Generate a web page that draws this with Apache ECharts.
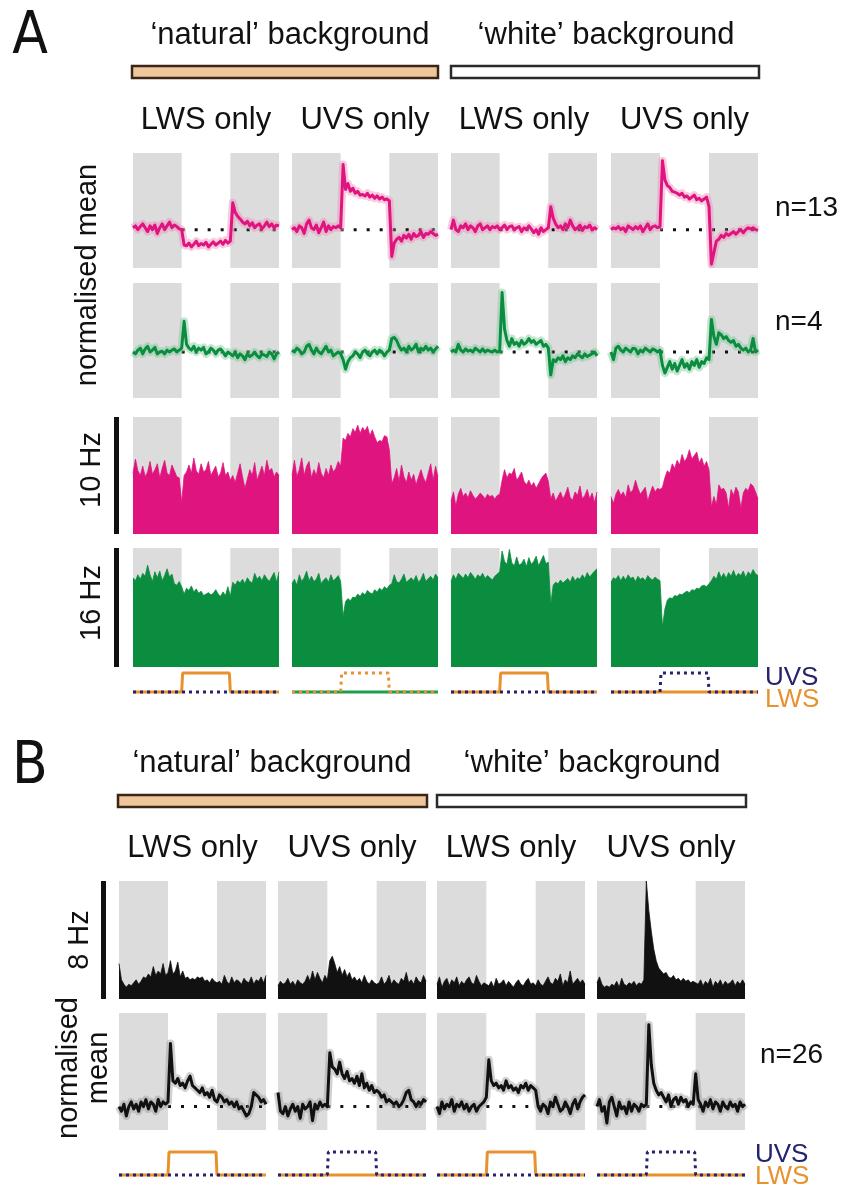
<!DOCTYPE html>
<html>
<head>
<meta charset="utf-8">
<script src="https://cdn.jsdelivr.net/npm/echarts@6/dist/echarts.min.js"></script>
<style>html,body{margin:0;padding:0;background:#fff}#c{width:842px;height:1191px}</style>
</head>
<body>
<div id="c"></div>
<script>
// ---- time base: 61 samples per trace, stimulus on between t=20 and t=40 ----
const tMax = 60;
const grayBlocks = [[0, 20], [40, 60]];
const baselineSpan = [20, 60];

// ---- A: normalised mean (n=13), pink ----
const a13_natLWS = [0.05,0.1,0.0,0.08,0.15,0.05,-0.05,0.1,0.0,0.12,-0.1,0.05,0.15,0.0,0.1,0.2,0.05,0.12,0.08,0.02,0.0,
  -0.4,-0.42,-0.35,-0.45,-0.38,-0.3,-0.42,-0.36,-0.4,-0.33,-0.45,-0.38,-0.32,-0.4,-0.35,-0.3,-0.38,-0.28,-0.35,-0.3,
  0.7,0.45,0.35,0.28,0.2,0.15,0.22,0.1,0.18,0.05,0.12,0.15,0.02,0.1,0.2,0.08,0.15,0.05,0.12,0.1];
const a13_natUVS = [0.0,0.05,-0.05,0.1,0.05,-0.1,0.15,0.25,0.05,0.0,0.12,-0.08,0.05,0.2,-0.05,0.1,0.0,0.08,0.05,0.1,0.05,
  1.7,1.05,1.2,1.0,1.08,0.95,1.0,0.9,0.92,0.88,0.95,0.85,0.9,0.82,0.88,0.8,0.85,0.78,0.8,0.75,
  -0.7,-0.35,-0.25,-0.2,-0.3,-0.15,-0.22,-0.12,-0.25,-0.1,-0.18,-0.15,-0.05,-0.2,-0.1,-0.12,-0.05,-0.1,-0.15,-0.12];
const a13_whtLWS = [0.0,0.25,0.0,-0.05,0.1,0.05,0.15,0.0,0.1,0.05,-0.05,0.1,0.15,0.0,0.05,0.1,0.0,0.08,0.05,0.1,0.0,
  0.05,0.12,0.0,0.08,0.1,0.0,0.05,0.08,-0.05,0.05,0.0,0.1,0.02,-0.08,0.0,-0.12,0.05,-0.05,0.0,0.05,
  0.6,0.3,0.15,0.05,0.1,0.0,0.15,0.05,0.25,0.1,0.0,0.05,0.12,-0.02,0.08,0.05,0.12,0.0,0.05,0.0];
const a13_whtUVS = [0.0,0.05,0.02,0.08,0.0,0.05,-0.05,0.1,0.05,0.0,0.08,0.02,0.1,-0.05,0.05,0.15,0.0,0.08,0.1,0.05,0.08,
  1.8,1.3,1.15,1.1,1.0,0.98,0.95,0.9,0.95,0.85,0.88,0.8,0.85,0.9,0.78,0.82,0.75,0.8,0.85,0.6,
  -0.9,-0.6,-0.3,-0.25,-0.15,-0.2,-0.1,-0.15,-0.1,-0.05,-0.12,-0.05,0.0,-0.08,0.0,0.05,0.02,0.05,0.0,-0.02];

// ---- A: normalised mean (n=4), green ----
const a4_natLWS = [0.0,-0.05,0.05,0.1,-0.05,0.08,0.15,0.0,0.05,0.12,-0.05,0.0,0.02,-0.05,0.05,0.0,0.05,0.08,0.0,0.05,0.1,
  0.8,0.2,0.1,0.05,0.15,0.0,0.1,0.05,0.12,-0.05,0.0,0.1,0.05,-0.05,0.05,0.08,0.0,-0.1,0.0,-0.05,
  -0.1,0.0,-0.15,-0.05,-0.1,-0.2,-0.05,-0.12,-0.08,0.0,-0.1,-0.15,-0.05,-0.08,-0.12,0.0,-0.05,-0.18,-0.05,0.0];
const a4_natUVS = [0.05,0.0,0.1,0.05,-0.05,0.0,0.15,0.2,0.05,-0.05,0.1,0.0,-0.05,0.05,0.15,0.0,0.05,-0.1,-0.05,0.0,-0.05,
  -0.2,-0.45,-0.25,-0.15,-0.1,0.0,-0.05,-0.15,0.0,0.05,-0.05,-0.1,0.0,0.05,-0.05,0.05,0.0,-0.1,0.0,0.05,
  0.35,0.38,0.3,0.15,0.05,0.1,0.0,0.15,0.05,0.1,0.2,0.0,0.1,0.05,0.15,0.05,0.1,0.0,0.08,0.15];
const a4_whtLWS = [0.0,0.05,0.0,0.2,0.05,0.0,0.08,0.02,0.05,0.0,0.1,0.05,0.0,0.08,0.0,0.05,0.02,0.0,0.05,0.0,0.02,
  1.55,0.6,0.3,0.15,0.35,0.2,0.25,0.15,0.3,0.2,0.25,0.35,0.25,0.3,0.2,0.25,0.3,0.15,0.2,0.1,
  -0.6,-0.2,-0.25,-0.15,-0.2,-0.1,-0.25,-0.15,-0.2,-0.1,-0.15,-0.05,-0.1,-0.15,-0.05,-0.12,-0.08,-0.05,0.0,-0.1];
const a4_whtUVS = [0.0,-0.2,0.1,0.15,0.05,0.0,0.1,0.05,0.0,0.1,0.08,-0.05,0.05,0.0,0.1,0.05,0.0,0.08,0.05,0.0,0.05,
  -0.35,-0.55,-0.4,-0.25,-0.45,-0.3,-0.5,-0.35,-0.2,-0.4,-0.3,-0.45,-0.25,-0.35,-0.2,-0.4,-0.25,-0.3,-0.15,-0.2,
  0.85,0.4,0.2,0.5,0.45,0.35,0.4,0.3,0.25,0.3,0.15,0.2,0.1,0.05,0.1,0.0,0.05,0.35,0.0,0.05];

// ---- A: example unit firing rate (Hz), 10 Hz scale ----
const hz10_natLWS = [5.2,6.4,5.4,5.0,5.8,4.9,5.3,6.2,5.1,5.5,6.0,4.8,5.6,6.3,5.2,5.0,5.9,5.4,4.9,4.8,2.7,
  5.0,5.3,5.9,5.2,6.5,5.4,5.1,6.0,5.3,5.5,6.2,5.0,5.4,5.8,4.9,5.2,6.1,5.0,5.3,4.6,
  5.0,4.4,5.2,6.0,4.9,3.9,4.7,5.5,5.0,6.1,4.6,5.2,5.8,5.0,6.3,5.4,5.6,4.9,5.3,5.0];
const hz10_natUVS = [5.0,6.3,4.9,5.5,6.5,5.0,5.8,6.2,4.8,5.5,5.0,6.1,5.2,4.8,5.6,5.0,5.9,5.3,5.6,6.2,5.8,
  8.2,8.0,8.6,8.3,9.0,8.7,9.3,8.6,9.1,8.8,9.2,8.4,8.9,8.3,7.8,8.0,7.9,8.4,8.3,7.2,
  4.3,4.8,5.6,4.5,5.9,4.9,4.4,5.3,4.6,5.1,4.2,4.9,5.5,4.8,4.4,5.2,6.0,4.6,5.8,4.9];
const hz10_whtLWS = [2.8,3.6,2.4,3.4,3.9,3.2,3.5,3.1,3.7,3.3,3.0,3.2,3.5,3.3,3.0,3.4,3.2,3.3,3.0,3.3,3.4,
  4.6,5.5,4.8,5.2,5.1,5.6,4.6,4.9,5.3,4.5,4.2,4.6,4.1,4.4,3.9,4.3,4.7,5.0,5.2,4.5,
  3.0,3.5,2.8,3.2,3.6,3.0,3.4,4.0,3.1,2.9,3.6,3.3,4.1,3.0,3.3,3.8,3.0,3.5,2.7,3.6];
const hz10_whtUVS = [3.2,2.6,3.4,3.8,3.3,3.6,3.1,4.2,3.5,3.8,4.6,3.9,3.4,3.7,4.0,2.8,3.5,4.1,3.6,3.9,3.8,
  4.0,4.8,5.4,5.2,6.0,5.6,6.3,5.9,6.8,6.2,6.5,7.2,6.4,6.7,7.0,6.1,6.5,5.8,6.2,5.5,
  2.3,3.2,2.5,4.2,3.8,3.9,3.5,2.2,3.8,3.3,4.0,3.6,2.2,3.5,3.9,3.7,4.3,4.1,3.6,3.0];

// ---- A: example unit firing rate (Hz), 16 Hz scale ----
const hz16_natLWS = [12.0,11.6,12.4,11.8,12.6,12.2,13.7,12.4,11.5,12.8,12.0,12.9,11.6,12.3,13.2,12.1,12.5,11.2,11.0,11.5,10.8,
  9.8,10.6,10.3,10.9,10.1,10.5,9.9,10.2,9.6,9.8,10.0,9.7,9.9,10.4,9.8,9.5,10.1,9.6,10.8,9.5,
  11.4,11.0,11.6,11.3,11.8,11.2,12.0,11.5,11.3,12.6,11.8,12.2,11.6,12.4,11.9,11.5,12.1,12.7,11.4,12.8];
const hz16_natUVS = [11.2,11.8,11.0,12.4,11.5,12.0,12.9,11.6,12.2,11.5,11.8,12.6,11.2,11.7,12.0,11.4,12.4,11.6,11.9,12.3,11.5,
  6.8,8.8,9.2,8.9,9.4,9.3,9.8,9.5,10.0,9.7,10.3,10.0,9.8,10.4,10.1,10.6,10.3,10.8,10.5,11.0,
  11.2,12.4,11.5,11.3,11.8,12.5,11.4,11.7,12.0,11.6,12.3,11.4,11.8,12.6,11.5,11.9,12.2,11.7,12.5,12.0];
const hz16_whtLWS = [11.5,12.4,11.8,12.6,12.3,11.9,12.5,12.0,12.7,12.3,11.8,12.4,12.1,12.6,11.9,12.3,12.0,11.7,12.2,12.5,12.8,
  15.6,14.2,13.8,15.8,14.0,13.6,14.8,13.7,13.9,14.5,13.5,14.7,13.8,14.2,14.9,13.6,14.3,15.0,13.9,14.1,
  8.4,11.0,11.4,11.2,11.7,11.3,11.6,11.9,11.4,12.2,11.6,12.0,11.8,12.4,11.9,12.7,12.1,12.5,12.9,13.2];
const hz16_whtUVS = [11.4,12.0,11.8,12.3,11.6,12.2,11.7,12.4,11.9,12.1,11.5,12.2,11.8,12.0,11.6,12.3,11.9,11.7,12.1,11.8,11.6,
  5.4,7.8,9.0,9.3,9.2,9.6,9.5,9.8,9.7,10.0,10.2,10.0,10.4,10.3,10.6,10.5,10.9,11.0,10.8,11.2,
  11.6,12.2,11.8,12.8,12.0,12.6,11.9,12.7,12.2,13.0,12.1,12.6,12.3,12.9,12.0,12.8,12.4,13.1,12.5,12.3];

// ---- B: example unit firing rate (Hz), 8 Hz scale ----
const hz8_natLWS = [2.4,1.3,1.0,0.8,1.0,0.9,1.1,1.3,1.0,1.2,1.5,1.4,1.7,1.5,2.2,1.6,1.9,1.7,2.4,1.6,1.8,
  2.6,1.7,1.9,2.5,1.5,1.9,1.4,1.5,1.3,1.4,1.3,1.5,1.4,1.5,1.2,1.3,1.1,1.4,1.2,1.1,
  1.2,1.0,1.6,1.2,1.0,1.5,1.1,1.3,1.2,1.0,1.4,1.2,1.1,1.5,1.0,1.3,1.2,1.5,1.1,1.6];
const hz8_natUVS = [0.9,1.2,1.0,1.1,1.4,1.0,1.2,0.9,1.3,1.1,1.0,1.2,1.6,1.2,1.9,1.3,1.8,1.4,1.1,1.6,1.3,
  2.6,2.9,2.4,1.8,2.2,1.6,2.0,1.5,1.8,1.3,1.5,1.2,1.4,1.1,1.6,1.2,1.0,1.3,1.1,1.0,
  1.1,1.5,1.0,1.2,1.6,1.0,1.3,1.1,1.0,1.4,1.2,1.8,1.1,1.3,1.0,1.5,1.2,1.1,1.6,1.2];
const hz8_whtLWS = [1.0,1.5,0.8,1.2,1.4,0.9,1.3,1.1,1.5,0.9,1.2,1.0,1.3,1.5,1.1,1.0,1.6,1.2,0.9,1.1,1.0,
  0.9,1.2,0.8,1.4,1.0,1.1,1.3,0.9,1.2,1.0,0.8,1.1,1.3,1.0,0.9,1.2,1.4,1.0,1.1,0.9,
  1.3,1.0,0.9,1.2,1.5,1.1,1.0,1.4,1.2,1.7,0.9,1.3,1.1,1.9,1.0,1.2,1.4,1.1,1.3,1.0];
const hz8_whtUVS = [1.1,1.5,1.0,0.8,0.9,0.8,1.0,0.9,1.2,0.8,1.4,1.0,0.9,1.1,1.0,1.2,0.9,1.1,1.0,1.3,8.0,
  6.0,4.6,3.4,2.6,2.1,1.9,1.7,1.8,1.5,1.4,1.6,1.3,1.4,1.2,1.4,1.2,1.3,1.1,1.2,1.1,
  1.0,1.3,0.9,1.2,1.0,1.4,0.8,1.2,1.0,1.3,0.9,1.2,1.0,1.1,1.3,0.9,1.2,1.0,1.3,1.0];

// ---- B: normalised mean (n=26), black ----
const b26_natLWS = [0.0,-0.1,0.05,-0.2,0.0,0.1,-0.05,0.05,-0.1,0.1,0.0,0.15,-0.05,0.1,0.05,-0.1,0.15,0.0,0.1,0.05,0.1,
  1.35,0.55,0.5,0.6,0.45,0.5,0.4,0.55,0.65,0.45,0.4,0.35,0.3,0.4,0.25,0.3,0.2,0.35,0.15,0.1,
  0.25,0.2,0.1,0.15,0.05,0.1,0.0,0.1,-0.05,0.0,-0.1,-0.2,-0.15,0.0,0.3,0.25,0.2,0.1,0.15,0.05];
const b26_natUVS = [0.3,-0.1,-0.15,0.0,-0.2,-0.05,0.05,-0.1,0.0,-0.25,0.05,-0.05,0.0,0.1,-0.3,0.05,-0.05,0.1,0.0,0.05,0.0,
  1.15,0.85,0.8,0.7,0.95,0.7,0.6,0.75,0.55,0.6,0.5,0.65,0.45,0.7,0.4,0.5,0.35,0.45,0.3,0.35,
  0.3,0.2,0.25,0.1,0.15,0.1,0.05,0.1,0.0,0.05,0.15,0.3,0.35,0.15,0.1,0.0,0.1,0.05,0.15,0.1];
const b26_whtLWS = [0.0,-0.15,0.1,-0.05,0.05,0.0,0.15,-0.1,0.05,0.0,0.1,-0.05,0.05,-0.1,0.0,0.05,-0.1,0.0,0.05,0.1,0.2,
  1.0,0.55,0.45,0.5,0.4,0.45,0.35,0.55,0.4,0.45,0.35,0.4,0.3,0.45,0.4,0.5,0.35,0.45,0.4,0.35,
  0.0,-0.1,0.05,0.0,-0.15,0.1,0.0,0.2,0.05,-0.1,-0.05,0.1,0.0,-0.15,0.05,0.15,-0.05,0.1,0.2,0.25];
const b26_whtUVS = [0.0,0.15,-0.1,0.0,-0.35,0.1,0.2,0.0,-0.2,0.1,-0.05,0.0,-0.15,0.1,-0.1,0.05,0.0,-0.1,0.05,0.0,0.05,
  1.75,0.9,0.5,0.35,0.25,0.3,0.2,0.1,0.25,0.0,0.15,0.2,0.05,0.2,0.1,0.15,0.0,0.1,0.05,0.7,
  0.15,0.05,-0.1,0.1,0.0,0.15,-0.05,0.1,0.05,-0.1,0.1,0.0,-0.05,0.1,0.0,0.05,-0.1,0.1,0.0,0.05];

// ---- stimulus schematics (0 = off, 1 = on) ----
const stimTime = [0, 20, 20.4, 39.6, 40, 60];
const stimPulse = [0, 0, 1, 1, 0, 0];
const stimFlat = [0, 0, 0, 0, 0, 0];

// ---- labels ----
const bgTitles = ['\u2018natural\u2019 background', '\u2018white\u2019 background'];
const colTitles = ['LWS only', 'UVS only', 'LWS only', 'UVS only'];

// ---- colours ----
const GRAY = '#dcdcdc', PINK = '#e0147e', GREEN = '#0a8d3f', BLACK = '#111111';
const ORANGE = '#e8922e', NAVY = '#25236b', STIMGREEN = '#1d9e4e';
const FONT = '"Liberation Sans", Arial, sans-serif';

// ---- layout ----
const colsA = [[133, 279], [292, 438], [451, 597], [611, 758]];
const colsB = [[119, 266], [278, 426], [437, 585], [597, 745]];

const grids = [], xAxes = [], yAxes = [], series = [];
function addGrid(c, top, bottom, ymin, ymax) {
  const i = grids.length;
  grids.push({ left: c[0], top: top, width: c[1] - c[0], height: bottom - top });
  xAxes.push({ gridIndex: i, type: 'value', min: 0, max: tMax, show: false });
  yAxes.push({ gridIndex: i, type: 'value', min: ymin, max: ymax, show: false });
  return i;
}
const toXY = vals => vals.map((v, k) => [k * tMax / (vals.length - 1), v]);

function shade(i) {
  series.push({
    type: 'line', xAxisIndex: i, yAxisIndex: i, data: [], silent: true, z: 1,
    markArea: { silent: true, itemStyle: { color: GRAY }, label: { show: false },
      data: grayBlocks.map(b => [{ xAxis: b[0] }, { xAxis: b[1] }]) }
  });
}
function meanPanel(i, vals, color, band) {
  shade(i);
  series.push({ type: 'line', xAxisIndex: i, yAxisIndex: i, silent: true, showSymbol: false, z: 2,
    data: baselineSpan.map(t => [t, 0]), lineStyle: { color: '#111', width: 3, type: [3, 10] } });
  series.push({ type: 'line', xAxisIndex: i, yAxisIndex: i, silent: true, showSymbol: false, z: 3,
    data: toXY(vals), lineStyle: { color: band, width: 8, opacity: 0.45, join: 'round' } });
  series.push({ type: 'line', xAxisIndex: i, yAxisIndex: i, silent: true, showSymbol: false, z: 4,
    data: toXY(vals), lineStyle: { color: color, width: 3, join: 'round' } });
}
function ratePanel(i, vals, color) {
  shade(i);
  series.push({ type: 'line', xAxisIndex: i, yAxisIndex: i, silent: true, showSymbol: false, z: 3,
    data: toXY(vals), lineStyle: { color: color, width: 0.8 }, areaStyle: { color: color, opacity: 1, origin: 'start' } });
}
function stimPanel(c, top, bottom, solidColor, solidVals, dotColor, dotVals) {
  const i = addGrid(c, top, bottom, 0, 1);
  series.push({ type: 'line', xAxisIndex: i, yAxisIndex: i, silent: true, showSymbol: false, clip: false, z: 3,
    data: stimTime.map((t, k) => [t, solidVals[k]]), lineStyle: { color: solidColor, width: 3 } });
  series.push({ type: 'line', xAxisIndex: i, yAxisIndex: i, silent: true, showSymbol: false, clip: false, z: 4,
    data: stimTime.map((t, k) => [t, dotVals[k]]), lineStyle: { color: dotColor, width: 3, type: [3, 4] } });
}

const rowPink = [a13_natLWS, a13_natUVS, a13_whtLWS, a13_whtUVS];
const rowGreen = [a4_natLWS, a4_natUVS, a4_whtLWS, a4_whtUVS];
const row10 = [hz10_natLWS, hz10_natUVS, hz10_whtLWS, hz10_whtUVS];
const row16 = [hz16_natLWS, hz16_natUVS, hz16_whtLWS, hz16_whtUVS];
const row8 = [hz8_natLWS, hz8_natUVS, hz8_whtLWS, hz8_whtUVS];
const row26 = [b26_natLWS, b26_natUVS, b26_whtLWS, b26_whtUVS];

// Panel A
const g10 = [], g16 = [], g8 = [];
colsA.forEach((c, k) => meanPanel(addGrid(c, 153, 268, -1, 2), rowPink[k], PINK, '#f08cbb'));
colsA.forEach((c, k) => meanPanel(addGrid(c, 283, 398, -1.2, 1.8), rowGreen[k], GREEN, '#7cc89a'));
colsA.forEach((c, k) => { const i = addGrid(c, 417, 534, 0, 10); g10.push(i); ratePanel(i, row10[k], PINK); });
colsA.forEach((c, k) => { const i = addGrid(c, 548, 667, 0, 16); g16.push(i); ratePanel(i, row16[k], GREEN); });
stimPanel(colsA[0], 673, 692, ORANGE, stimPulse, NAVY, stimFlat);
stimPanel(colsA[1], 673, 692, STIMGREEN, stimFlat, ORANGE, stimPulse);
stimPanel(colsA[2], 673, 692, ORANGE, stimPulse, NAVY, stimFlat);
stimPanel(colsA[3], 673, 692, ORANGE, stimFlat, NAVY, stimPulse);

// Panel B
colsB.forEach((c, k) => { const i = addGrid(c, 881, 999, 0, 8); g8.push(i); ratePanel(i, row8[k], BLACK); });
colsB.forEach((c, k) => meanPanel(addGrid(c, 1013, 1130, -0.5, 2), row26[k], BLACK, '#9a9a9a'));
stimPanel(colsB[0], 1152, 1175, ORANGE, stimPulse, NAVY, stimFlat);
stimPanel(colsB[1], 1152, 1175, ORANGE, stimFlat, NAVY, stimPulse);
stimPanel(colsB[2], 1152, 1175, ORANGE, stimPulse, NAVY, stimFlat);
stimPanel(colsB[3], 1152, 1175, ORANGE, stimFlat, NAVY, stimPulse);

const chart = echarts.init(document.getElementById('c'), null, { renderer: 'canvas' });
chart.setOption({
  animation: false, backgroundColor: '#ffffff',
  grid: grids, xAxis: xAxes, yAxis: yAxes, series: series
});

// ---- text and decorations ----
function T(x, y, s, size, opt) {
  opt = opt || {};
  return { type: 'text', x: x, y: y, rotation: opt.rot || 0, silent: true, z: 10,
    style: { text: s, font: (size) + 'px ' + (opt.family || FONT), fill: opt.color || '#111',
      align: opt.align || 'center', verticalAlign: 'middle', textAlign: opt.align || 'center',
      textVerticalAlign: 'middle', lineHeight: opt.lh || size } };
}
function R(x, y, w, h, fill, stroke, lw) {
  return { type: 'rect', silent: true, z: 10, shape: { x: x, y: y, width: w, height: h },
    style: { fill: fill, stroke: stroke || null, lineWidth: lw || 0 } };
}
function scaleBar(gi, x) {
  const top = chart.convertToPixel({ gridIndex: gi }, [0, yAxes[gi].max]);
  const bot = chart.convertToPixel({ gridIndex: gi }, [0, yAxes[gi].min]);
  return R(x, top[1], 5, bot[1] - top[1], '#111');
}
const cx = c => (c[0] + c[1]) / 2;
const rot = Math.PI / 2;
const LETTER = '"Liberation Sans Narrow", "DejaVu Sans Condensed", sans-serif';
const g = [];
// Panel A
g.push(T(30, 38, 'A', 58, { family: LETTER }));
g.push(T(290, 35, bgTitles[0], 31));
g.push(T(606, 35, bgTitles[1], 31));
g.push(R(132, 66, 306, 12, '#efc59b', '#3a2616', 2.5));
g.push(R(451, 66, 308, 12, '#ffffff', '#2a2a2a', 2.5));
colsA.forEach((c, k) => g.push(T(cx(c), 120, colTitles[k], 31)));
g.push(T(88, 275, 'normalised mean', 29, { rot: rot }));
g.push(T(775, 208, 'n=13', 28, { align: 'left' }));
g.push(T(775, 322, 'n=4', 28, { align: 'left' }));
g.push(scaleBar(g10[0], 114));
g.push(scaleBar(g16[0], 114));
g.push(T(92, 470, '10 Hz', 29, { rot: rot }));
g.push(T(92, 603, '16 Hz', 29, { rot: rot }));
g.push(T(765, 678, 'UVS', 26, { align: 'left', color: NAVY }));
g.push(T(765, 700, 'LWS', 26, { align: 'left', color: ORANGE }));
// Panel B
g.push(T(30, 768, 'B', 58, { family: LETTER }));
g.push(T(272, 763, bgTitles[0], 31));
g.push(T(592, 763, bgTitles[1], 31));
g.push(R(118, 795, 309, 12, '#efc59b', '#3a2616', 2.5));
g.push(R(437, 795, 309, 12, '#ffffff', '#2a2a2a', 2.5));
colsB.forEach((c, k) => g.push(T(cx(c), 848, colTitles[k], 31)));
g.push(scaleBar(g8[0], 101));
g.push(T(80, 940, '8 Hz', 29, { rot: rot }));
g.push(T(84, 1068, 'normalised\nmean', 29, { rot: rot, lh: 30 }));
g.push(T(760, 1055, 'n=26', 28, { align: 'left' }));
g.push(T(755, 1155, 'UVS', 26, { align: 'left', color: NAVY }));
g.push(T(755, 1177, 'LWS', 26, { align: 'left', color: ORANGE }));

chart.setOption({ graphic: g });
</script>
</body>
</html>
